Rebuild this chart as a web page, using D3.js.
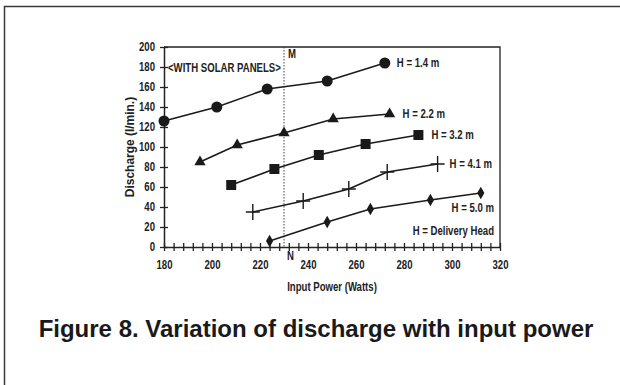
<!DOCTYPE html>
<html>
<head>
<meta charset="utf-8">
<script src="https://cdn.jsdelivr.net/npm/d3@7"></script>
<style>
  body { margin: 0; background: #fff; }
</style>
</head>
<body>
<svg id="chart" width="620" height="385"></svg>
<script>
// data (input power W, discharge l/min)
var heads = ["H = 1.4 m", "H = 2.2 m", "H = 3.2 m", "H = 4.1 m", "H = 5.0 m"];
var power14 = [180, 202, 223, 248, 272];
var flow14 = [126, 140, 158, 166, 184];
var power22 = [195, 210.5, 230, 250.5, 274];
var flow22 = [85, 102, 114, 128, 133];
var power32 = [208, 226, 244.5, 264, 286];
var flow32 = [62, 78, 92, 103, 112];
var power41 = [217, 238, 257, 273, 294];
var flow41 = [35, 46, 58, 75, 83];
var power50 = [224, 248, 266, 291, 312];
var flow50 = [6, 25, 38, 47, 54];
var markerTypes = ["circle", "triangle", "square", "plus", "diamond"];
var xTicks = [180, 200, 220, 240, 260, 280, 300, 320];
var yTicks = [0, 20, 40, 60, 80, 100, 120, 140, 160, 180, 200];
var mnLine = 230;

var svg = d3.select("#chart");

// outer frame of the figure
svg.append("rect")
  .attr("x", 4.5).attr("y", 6.5)
  .attr("width", 640).attr("height", 400)
  .attr("fill", "none")
  .attr("stroke", "#3a3a3a")
  .attr("stroke-width", 1.5);

var x = d3.scaleLinear().domain([180, 320]).range([164, 500]);
var y = d3.scaleLinear().domain([0, 200]).range([247, 47]);

var g = svg.append("g")
  .attr("font-family", "'Liberation Sans', Arial, sans-serif")
  .attr("font-weight", "bold");

// plot box (top + right)
g.append("path")
  .attr("d", "M" + x(180) + "," + y(200) + "H" + x(320) + "V" + y(0))
  .attr("fill", "none").attr("stroke", "#222").attr("stroke-width", 1.3);

// y axis
var yAxis = d3.axisLeft(y).tickValues(yTicks).tickSizeInner(4).tickSizeOuter(0).tickPadding(5);
var ya = g.append("g").attr("transform", "translate(" + x(180) + ",0)").call(yAxis);
ya.selectAll(".tick line").attr("x2", 4).attr("x1", -4);
// x axis with minor ticks every 4 W
var xAxis = d3.axisBottom(x).tickValues(d3.range(180, 321, 4)).tickSize(0).tickFormat("");
var xa = g.append("g").attr("transform", "translate(0," + y(0) + ")").call(xAxis);
xa.selectAll(".tick line").attr("y1", -4).attr("y2", 4);
var xl = g.append("g").attr("transform", "translate(0," + y(0) + ")")
  .call(d3.axisBottom(x).tickValues(xTicks).tickSize(0).tickPadding(13));
xl.select(".domain").remove();

g.selectAll(".domain").attr("stroke", "#222").attr("stroke-width", 1.5);
g.selectAll(".tick line").attr("stroke", "#222").attr("stroke-width", 1.3);
g.selectAll(".tick text")
  .attr("font-family", "'Liberation Sans', Arial, sans-serif")
  .attr("font-weight", "bold").attr("font-size", 12).attr("fill", "#222");

// M-N dotted line
g.append("line")
  .attr("x1", x(mnLine)).attr("x2", x(mnLine))
  .attr("y1", y(200)).attr("y2", y(0))
  .attr("stroke", "#444").attr("stroke-width", 1)
  .attr("stroke-dasharray", "1.5,1.5");
g.append("text").attr("x", x(mnLine) + 4).attr("y", y(200) + 11).text("M")
  .attr("font-size", 12).attr("fill", "#222");
g.append("text").attr("x", x(mnLine) + 3).attr("y", y(0) + 13).text("N")
  .attr("font-size", 12).attr("fill", "#222");

// series
var series = [
  { name: heads[0], px: power14, py: flow14, m: markerTypes[0] },
  { name: heads[1], px: power22, py: flow22, m: markerTypes[1] },
  { name: heads[2], px: power32, py: flow32, m: markerTypes[2] },
  { name: heads[3], px: power41, py: flow41, m: markerTypes[3] },
  { name: heads[4], px: power50, py: flow50, m: markerTypes[4] }
];

var line = d3.line().x(function (d) { return x(d[0]); }).y(function (d) { return y(d[1]); });

var symbols = {
  circle: d3.symbol().type(d3.symbolCircle).size(95),
  triangle: d3.symbol().type(d3.symbolTriangle).size(55),
  square: d3.symbol().type(d3.symbolSquare).size(100),
  diamond: d3.symbol().type(d3.symbolDiamond).size(45)
};

series.forEach(function (s) {
  var pts = s.px.map(function (v, i) { return [v, s.py[i]]; });
  g.append("path").datum(pts).attr("d", line)
    .attr("fill", "none").attr("stroke", "#1a1a1a").attr("stroke-width", 1.6);
  pts.forEach(function (p) {
    var cx = x(p[0]), cy = y(p[1]);
    if (s.m === "plus") {
      g.append("path")
        .attr("d", "M" + (cx - 7) + "," + cy + "H" + (cx + 7) + "M" + cx + "," + (cy - 8) + "V" + (cy + 8))
        .attr("stroke", "#1a1a1a").attr("stroke-width", 1.4);
    } else {
      g.append("path").attr("d", symbols[s.m]())
        .attr("transform", "translate(" + cx + "," + cy + ")")
        .attr("fill", "#1a1a1a");
    }
  });
});

// series labels
var labelOffsets = [[12, 4], [13, 4], [13, 4], [12, 4], [-2, 19]];
series.forEach(function (s, i) {
  var last = s.px.length - 1;
  var t = g.append("text")
    .attr("x", x(s.px[last]) + labelOffsets[i][0])
    .attr("y", y(s.py[last]) + labelOffsets[i][1])
    .attr("font-size", 12).attr("fill", "#222")
    .text(s.name);
  if (i === 4) t.attr("text-anchor", "end").attr("x", x(320) - 6);
});

g.append("text").attr("x", x(320) - 6).attr("y", y(12))
  .attr("text-anchor", "end").attr("font-size", 12).attr("fill", "#222")
  .text("H = Delivery Head");

g.append("text").attr("x", x(180) + 4).attr("y", y(180) + 5)
  .attr("font-size", 12).attr("fill", "#222")
  .text("<WITH SOLAR PANELS>");

g.append("text")
  .attr("x", x(250)).attr("y", 291)
  .attr("text-anchor", "middle").attr("font-size", 12).attr("fill", "#222")
  .text("Input Power (Watts)");

// the original uses a narrow bold face: squeeze the chart texts horizontally
g.selectAll("text").each(function () {
  var t = d3.select(this);
  var tx = +t.attr("x") || 0, ty = +t.attr("y") || 0;
  t.attr("x", 0).attr("y", 0)
    .attr("transform", "translate(" + tx + "," + ty + ") scale(0.8,1)");
});

// y axis title (rotated, squeezed along its own length)
g.append("text")
  .attr("transform", "translate(" + 134 + "," + y(100) + ") rotate(-90) scale(0.92,1)")
  .attr("text-anchor", "middle").attr("font-size", 13).attr("fill", "#222")
  .text("Discharge (l/min.)");

// caption
svg.append("text")
  .attr("x", 316).attr("y", 337)
  .attr("text-anchor", "middle")
  .attr("font-family", "'Liberation Sans', Arial, sans-serif")
  .attr("font-weight", "bold").attr("font-size", 24).attr("fill", "#1a1a1a")
  .text("Figure 8. Variation of discharge with input power");
</script>
</body>
</html>
